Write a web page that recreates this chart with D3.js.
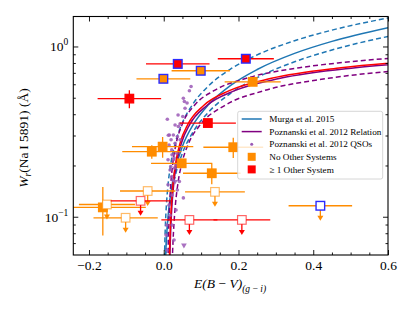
<!DOCTYPE html>
<html lang="en">
<head>
<meta charset="UTF-8">
<script src="https://cdn.jsdelivr.net/npm/d3@7"></script>
<style>
  body { margin: 0; background: #fff; }
  svg { font-family: "Liberation Serif", "DejaVu Serif", serif; }
</style>
</head>
<body>
<svg id="chart" width="415" height="311"></svg>
<script>
// relation curves as (E(B-V), W) pairs
const murgaE   = [0.0045, 0.006, 0.008, 0.012, 0.02, 0.03, 0.05, 0.08, 0.12, 0.18, 0.25, 0.35, 0.45, 0.6];
const murgaW   = [0.0547, 0.0659, 0.0794, 0.1031, 0.1433, 0.1861, 0.2592, 0.3509, 0.456, 0.5928, 0.7326, 0.9106, 1.0712, 1.29];
const murgaHiE = [0.002, 0.003, 0.005, 0.008, 0.012, 0.02, 0.03, 0.05, 0.08, 0.12, 0.18, 0.25, 0.35, 0.45, 0.6];
const murgaHiW = [0.0569, 0.0717, 0.096, 0.1254, 0.158, 0.2115, 0.2665, 0.3568, 0.466, 0.5873, 0.74, 0.8924, 1.081, 1.2476, 1.47];
const murgaLoE = [0.005, 0.006, 0.008, 0.012, 0.02, 0.03, 0.05, 0.08, 0.12, 0.18, 0.25, 0.35, 0.45, 0.6];
const murgaLoW = [0.0548, 0.0615, 0.0738, 0.0955, 0.1321, 0.1709, 0.2363, 0.3184, 0.412, 0.5331, 0.6566, 0.8129, 0.954, 1.145];

const poznE   = [0.01617, 0.01743, 0.01925, 0.02235, 0.02726, 0.03497, 0.04711, 0.07015, 0.11535, 0.18967, 0.31189, 0.51286, 0.6577];
const poznW   = [0.055, 0.07, 0.09, 0.12, 0.16, 0.21, 0.27, 0.35, 0.45, 0.55, 0.65, 0.75, 0.80];
const poznHiE = [0.01145, 0.01234, 0.01363, 0.01582, 0.0193, 0.02476, 0.03335, 0.04966, 0.08166, 0.1343, 0.2208, 0.3631, 0.4656, 0.6594];
const poznHiW = [0.055, 0.07, 0.09, 0.12, 0.16, 0.21, 0.27, 0.35, 0.45, 0.55, 0.65, 0.75, 0.80, 0.87];
const poznLoE = [0.02284, 0.02462, 0.02719, 0.03157, 0.03851, 0.0494, 0.06654, 0.09909, 0.1629, 0.2679, 0.4405, 0.6239];
const poznLoW = [0.055, 0.07, 0.09, 0.12, 0.16, 0.21, 0.27, 0.35, 0.45, 0.55, 0.65, 0.72];

const fitE = [0.01496, 0.01612, 0.0178, 0.02067, 0.02522, 0.03233, 0.04357, 0.06489, 0.1067, 0.1754, 0.2884, 0.4743, 0.6719];
const fitW = [0.055, 0.07, 0.09, 0.12, 0.16, 0.21, 0.27, 0.35, 0.45, 0.55, 0.65, 0.75, 0.82];

// Poznanski et al. 2012 QSOs
const qsoE = [0.0731, 0.0686, 0.0525, 0.0552, 0.057, 0.0096, 0.0509, 0.0437, 0.015, 0.0257, 0.0364, 0.0303, 0.0214, 0.0348, 0.0257,
              0.0187, 0.0284, 0.0418, 0.0214, 0.0364, 0.0329, 0.0062, 0.008, 0.0169, 0.0525, 0.0123, 0.039, 0.0276, 0.0437, 0.0142,
              0.0222, 0.0115, 0.0169, 0.0115, 0.0222, 0.0142, 0.0222, 0.0276, 0.0088, 0.0249, 0.0303, 0.0383, 0.0624, 0.0196, 0.0329];
const qsoW = [0.582, 0.549, 0.497, 0.475, 0.434, 0.374, 0.388, 0.351, 0.302, 0.302, 0.296, 0.270, 0.247, 0.236, 0.216,
              0.197, 0.193, 0.161, 0.172, 0.1436, 0.1095, 0.078, 0.0893, 0.102, 0.129, 0.301, 0.339, 0.221, 0.283, 0.264,
              0.231, 0.216, 0.188, 0.154, 0.134, 0.117, 0.0893, 0.073, 0.0637, 0.164, 0.346, 0.396, 0.466, 0.283, 0.201];
const qsoLimE = [0.03, 0.054];
const qsoLimW = [0.161, 0.068];

// detections: no other systems (orange) / >= 1 other system (red); blue = flagged edge
const orangeE    = [-0.001, 0.099, 0.238, -0.032, -0.003, 0.048, 0.1285, 0.186, -0.163];
const orangeW    = [0.646, 0.72, 0.62, 0.241, 0.258, 0.206, 0.18, 0.256, 0.1135];
const orangeEerr = [0.072, 0.078, 0.075, 0.079, 0.082, 0.082, 0.077, 0.08, 0.115];
const orangeWerr = [0, 0, 0, 0.022, 0.036, 0.012, 0.025, 0.035, 0.036];
const orangeBlue = [1, 1, 0, 0, 0, 0, 0, 0, 0];

const redE    = [0.0375, 0.2196, -0.092, 0.118];
const redW    = [0.79, 0.847, 0.494, 0.355];
const redEerr = [0.085, 0.075, 0.085, 0.075];
const redWerr = [0, 0, 0.06, 0.01];
const redBlue = [1, 1, 0, 0];

// upper limits
const limOrangeE    = [-0.043, 0.137, -0.152, -0.102, 0.419];
const limOrangeW    = [0.1416, 0.14, 0.118, 0.0986, 0.116];
const limOrangeEerr = [0.074, 0.08, 0.075, 0.086, 0.085];
const limOrangeBlue = [0, 0, 0, 0, 1];

const limRedE    = [-0.062, 0.0686, 0.209];
const limRedW    = [0.124, 0.0958, 0.0958];
const limRedEerr = [0.08, 0.075, 0.076];
const limRedBlue = [0, 0, 0];

const xMajor = [-0.2, 0, 0.2, 0.4, 0.6];
const yMajor = [0.1, 1];
const legendLabels = ["Murga et al. 2015", "Poznanski et al. 2012 Relation", "Poznanski et al. 2012 QSOs",
                      "No Other Systems", "\u2265 1 Other System"];

const BLUE = "#1f77b4", PURPLE = "#800080", QSO = "#9b59b6", ORANGE = "#ff8c00", RED = "#ff0000", EDGE = "#2b2bff";

const L = 73.3, R = 388, T = 16.5, B = 255;
const svg = d3.select("#chart");
const x = d3.scaleLinear().domain([-0.242, 0.6]).range([L, R]);
const y = d3.scaleLog().domain([0.0596, 1.5]).range([B, T]);

svg.append("clipPath").attr("id", "clip")
  .append("rect").attr("x", L).attr("y", T).attr("width", R - L).attr("height", B - T);

const plot = svg.append("g").attr("clip-path", "url(#clip)");

// curves
const line = d3.line().x(d => x(d[0])).y(d => y(d[1])).curve(d3.curveMonotoneX);
const zip = (a, b) => a.map((v, i) => [v, b[i]]);
const curves = [
  { d: zip(murgaHiE, murgaHiW), c: BLUE, dash: "5,3" },
  { d: zip(murgaLoE, murgaLoW), c: BLUE, dash: "5,3" },
  { d: zip(murgaE, murgaW), c: BLUE, dash: null },
  { d: zip(poznHiE, poznHiW), c: PURPLE, dash: "5,3" },
  { d: zip(poznLoE, poznLoW), c: PURPLE, dash: "5,3" },
  { d: zip(poznE, poznW), c: PURPLE, dash: null },
  { d: zip(fitE, fitW), c: RED, dash: null }
];
plot.selectAll("path.curve").data(curves).enter().append("path")
  .attr("class", "curve")
  .attr("d", d => line(d.d))
  .attr("fill", "none")
  .attr("stroke", d => d.c)
  .attr("stroke-width", 1.5)
  .attr("stroke-dasharray", d => d.dash);

// QSOs
plot.selectAll("circle.qso").data(zip(qsoE, qsoW)).enter().append("circle")
  .attr("class", "qso")
  .attr("cx", d => x(d[0])).attr("cy", d => y(d[1])).attr("r", 1.8)
  .attr("fill", QSO).attr("opacity", 0.85);
plot.selectAll("path.qsolim").data(zip(qsoLimE, qsoLimW)).enter().append("path")
  .attr("class", "qsolim")
  .attr("transform", d => `translate(${x(d[0])},${y(d[1])}) rotate(180)`)
  .attr("d", d3.symbol(d3.symbolTriangle, 14))
  .attr("fill", QSO).attr("opacity", 0.85);

// data points
function group(E, Wv, Ee, We, blue, color, limit) {
  const pts = E.map((e, i) => ({ e, w: Wv[i], ee: Ee[i], we: We ? We[i] : 0, blue: blue[i] }));
  const g = plot.append("g");
  g.selectAll("line.xe").data(pts).enter().append("line")
    .attr("x1", d => x(d.e - d.ee)).attr("x2", d => x(d.e + d.ee))
    .attr("y1", d => y(d.w)).attr("y2", d => y(d.w))
    .attr("stroke", color).attr("stroke-width", 1.3);
  g.selectAll("line.ye").data(pts.filter(d => d.we > 0)).enter().append("line")
    .attr("x1", d => x(d.e)).attr("x2", d => x(d.e))
    .attr("y1", d => y(d.w - d.we)).attr("y2", d => y(d.w + d.we))
    .attr("stroke", color).attr("stroke-width", 1.3);
  if (limit) {
    g.selectAll("line.arr").data(pts).enter().append("line")
      .attr("x1", d => x(d.e)).attr("x2", d => x(d.e))
      .attr("y1", d => y(d.w)).attr("y2", d => y(d.w) + 11)
      .attr("stroke", color).attr("stroke-width", 1.3);
    g.selectAll("path.head").data(pts).enter().append("path")
      .attr("d", d => {
        const cx = x(d.e), cy = y(d.w) + 10;
        return `M${cx - 3},${cy} L${cx + 3},${cy} L${cx},${cy + 5} Z`;
      })
      .attr("fill", color);
  }
  g.selectAll("rect.mk").data(pts).enter().append("rect")
    .attr("x", d => x(d.e) - 4.3).attr("y", d => y(d.w) - 4.3)
    .attr("width", 8.6).attr("height", 8.6)
    .attr("fill", limit ? "#fff" : color)
    .attr("stroke", d => d.blue ? EDGE : color)
    .attr("stroke-opacity", d => (limit && !d.blue) ? 0.6 : 1)
    .attr("stroke-width", d => d.blue ? 1.4 : 1.2);
}
group(orangeE, orangeW, orangeEerr, orangeWerr, orangeBlue, ORANGE, false);
group(redE, redW, redEerr, redWerr, redBlue, RED, false);
group(limOrangeE, limOrangeW, limOrangeEerr, null, limOrangeBlue, ORANGE, true);
group(limRedE, limRedW, limRedEerr, null, limRedBlue, RED, true);

// axes: inward ticks on all four sides
const xMinor = d3.range(-0.2, 0.601, 0.05).map(v => +v.toFixed(2)).filter(v => !xMajor.includes(v));
const yMinor = [0.07, 0.08, 0.09, 0.2, 0.3, 0.4, 0.5, 0.6, 0.7, 0.8, 0.9];
const fmt = v => (v < 0 ? "\u2212" : "") + Math.abs(v).toFixed(1);

function ticks(axis, tr, vals, size, f) {
  const g = svg.append("g").attr("transform", tr)
    .call(axis.tickValues(vals).tickSize(-size).tickPadding(5).tickFormat(f || ""));
  g.select(".domain").remove();
  g.selectAll("line").attr("stroke", "#000").attr("stroke-width", 0.9);
  g.selectAll("text").attr("font-size", 13.5).attr("font-family", "Liberation Serif, DejaVu Serif, serif").attr("fill", "#000");
  return g;
}
ticks(d3.axisBottom(x), `translate(0,${B})`, xMajor, 5, fmt);
ticks(d3.axisBottom(x), `translate(0,${B})`, xMinor, 2.5);
ticks(d3.axisTop(x), `translate(0,${T})`, xMajor, 5);
ticks(d3.axisTop(x), `translate(0,${T})`, xMinor, 2.5);
ticks(d3.axisLeft(y), `translate(${L},0)`, yMajor, 5);
ticks(d3.axisLeft(y), `translate(${L},0)`, yMinor, 2.5);
ticks(d3.axisRight(y), `translate(${R},0)`, yMajor, 5);
ticks(d3.axisRight(y), `translate(${R},0)`, yMinor, 2.5);

svg.append("rect").attr("x", L).attr("y", T).attr("width", R - L).attr("height", B - T)
  .attr("fill", "none").attr("stroke", "#000").attr("stroke-width", 1.1);

// y tick labels as 10^n
yMajor.forEach(v => {
  const t = svg.append("text").attr("x", L - 5).attr("y", y(v) + 5)
    .attr("text-anchor", "end").attr("font-size", 13.5);
  t.append("tspan").text("10");
  t.append("tspan").attr("dy", -6).attr("font-size", 9.5).text(v === 1 ? "0" : "\u22121");
});

// axis titles
const xl = svg.append("text").attr("x", 230).attr("y", 288).attr("text-anchor", "middle")
  .attr("font-size", 13.5).attr("font-style", "italic");
xl.append("tspan").text("E(B\u2009\u2212\u2009V)");
xl.append("tspan").attr("dy", 3.5).attr("font-size", 9.5).text("(g\u2009\u2212\u2009i)");

const yl = svg.append("text").attr("transform", "translate(28,138) rotate(-90)")
  .attr("text-anchor", "middle").attr("font-size", 13.5);
yl.append("tspan").attr("font-style", "italic").text("W");
yl.append("tspan").attr("dy", 3).attr("font-size", 9.5).attr("font-style", "italic").text("r");
yl.append("tspan").attr("dy", -3).text("(Na\u2009I 5891) (\u00c5)");

// legend
const lg = svg.append("g");
lg.append("rect").attr("x", 237.7).attr("y", 111.3).attr("width", 145).attr("height", 67.7)
  .attr("rx", 2).attr("fill", "#fff").attr("fill-opacity", 0.8).attr("stroke", "#ccc").attr("stroke-width", 0.8);
const rowY = [119, 131.6, 144.2, 156.8, 169.4];
legendLabels.forEach((s, i) => {
  lg.append("text").attr("x", 269.3).attr("y", rowY[i] + 3.2).attr("font-size", 9.2).text(s);
});
[BLUE, PURPLE].forEach((c, i) => {
  lg.append("line").attr("x1", 241.7).attr("x2", 261.7).attr("y1", rowY[i]).attr("y2", rowY[i])
    .attr("stroke", c).attr("stroke-width", 1.5);
});
lg.append("circle").attr("cx", 251.7).attr("cy", rowY[2]).attr("r", 1.5).attr("fill", QSO);
[ORANGE, RED].forEach((c, i) => {
  lg.append("rect").attr("x", 251.7 - 4).attr("y", rowY[3 + i] - 4).attr("width", 8).attr("height", 8).attr("fill", c);
});
</script>
</body>
</html>
